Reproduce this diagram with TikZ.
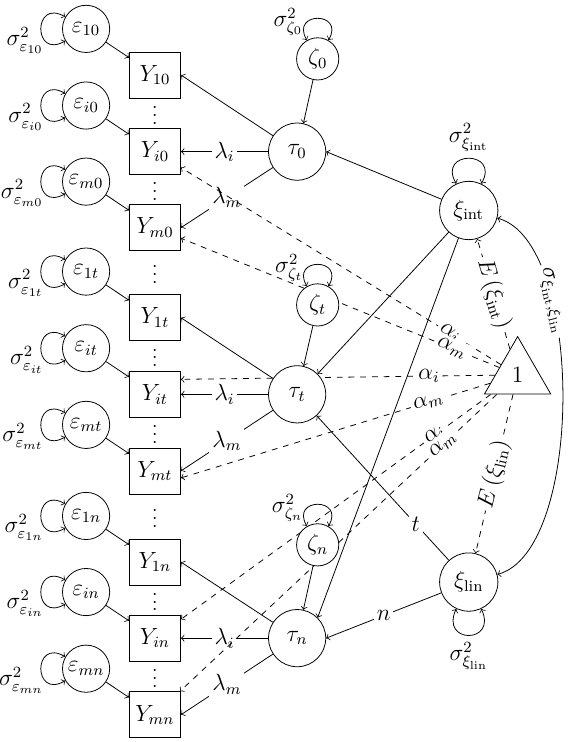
\documentclass[tikz,border=0pt]{standalone}
\usepackage{amsmath,amsfonts,amssymb}
\usepackage{tikz}
\usetikzlibrary{shapes.geometric}
\usetikzlibrary{positioning,arrows}
\usetikzlibrary{calc}
\usetikzlibrary{backgrounds}
\tikzset{
  obsbox/.style={draw, rectangle, fill=white, minimum width=0.92cm, minimum height=0.83cm, inner sep=1pt},
  errcirc/.style={draw, circle, fill=white, minimum size=0.85cm, inner sep=0.5pt},
  taucirc/.style={draw, circle, fill=white, minimum size=1.03cm, inner sep=1pt},
  zetacirc/.style={draw, circle, fill=white, minimum size=0.76cm, inner sep=1pt},
  xicirc/.style={draw, circle, fill=white, minimum size=1.05cm, inner sep=1pt},
  onetri/.style={draw, regular polygon, regular polygon sides=3, fill=white, minimum size=1.38cm, inner sep=0pt},
  coef/.style={fill=white, inner sep=1.5pt},
  varlbl/.style={left, inner sep=0.5pt},
  dotsnode/.style={font=\normalsize, yshift=2pt},
  leftloop/.style={<->, out=150, in=210, looseness=4},
  toploop/.style={<->, out=120, in=60, looseness=4},
  botloop/.style={<->, out=-115, in=-65, looseness=4},
}
\begin{document}
\begin{tikzpicture}[every node/.style={font=\large}]
    \useasboundingbox (0, 0) rectangle (10.21, -13.36);
    % observed, time 0
    \node [obsbox] (Y10) at (2.79, -1.35) {$Y_{10}$};
    \node [obsbox] (Yi0) at (2.79, -2.73) {$Y_{i0}$};
    \node [obsbox] (Ym0) at (2.79, -4.10) {$Y_{m0}$};
    % observed, time t
    \node [obsbox] (Y1t) at (2.79, -5.72) {$Y_{1t}$};
    \node [obsbox] (Yit) at (2.79, -7.10) {$Y_{it}$};
    \node [obsbox] (Ymt) at (2.79, -8.48) {$Y_{mt}$};
    % observed, time n
    \node [obsbox] (Y1n) at (2.79, -10.12) {$Y_{1n}$};
    \node [obsbox] (Yin) at (2.79, -11.49) {$Y_{in}$};
    \node [obsbox] (Ymn) at (2.79, -12.87) {$Y_{mn}$};
    % dots
    \node [dotsnode] (dot1) at ($(Y10)!0.5!(Yi0)$) {$\vdots$};
    \node [dotsnode] (dot2) at ($(Yi0)!0.5!(Ym0)$) {$\vdots$};
    \node [dotsnode] (dot3) at ($(Ym0)!0.5!(Y1t)$) {$\vdots$};
    \node [dotsnode] (dot4) at ($(Y1t)!0.5!(Yit)$) {$\vdots$};
    \node [dotsnode] (dot5) at ($(Yit)!0.5!(Ymt)$) {$\vdots$};
    \node [dotsnode] (dot6) at ($(Ymt)!0.5!(Y1n)$) {$\vdots$};
    \node [dotsnode] (dot7) at ($(Y1n)!0.5!(Yin)$) {$\vdots$};
    \node [dotsnode] (dot8) at ($(Yin)!0.5!(Ymn)$) {$\vdots$};
    % errors
    \node [errcirc] (e10) at (1.55, -0.52) {$\varepsilon_{10}$};
    \node [errcirc] (ei0) at (1.55, -1.90) {$\varepsilon_{i0}$};
    \node [errcirc] (em0) at (1.55, -3.27) {$\varepsilon_{m0}$};
    \node [errcirc] (e1t) at (1.55, -4.89) {$\varepsilon_{1t}$};
    \node [errcirc] (eit) at (1.55, -6.27) {$\varepsilon_{it}$};
    \node [errcirc] (emt) at (1.55, -7.65) {$\varepsilon_{mt}$};
    \node [errcirc] (e1n) at (1.55, -9.29) {$\varepsilon_{1n}$};
    \node [errcirc] (ein) at (1.55, -10.66) {$\varepsilon_{in}$};
    \node [errcirc] (emn) at (1.55, -12.04) {$\varepsilon_{mn}$};
    % occasions
    \node [taucirc] (tau0) at (5.35, -2.73) {$\tau_0$};
    \node [taucirc] (taut) at (5.35, -7.10) {$\tau_t$};
    \node [taucirc] (taun) at (5.35, -11.49) {$\tau_n$};
    \node [zetacirc] (zeta0) at (5.72, -1.06) {$\zeta_0$};
    \node [zetacirc] (zetat) at (5.72, -5.49) {$\zeta_t$};
    \node [zetacirc] (zetan) at (5.72, -9.81) {$\zeta_n$};
    % growth factors
    \node [xicirc] (xiint) at (8.44, -3.79) {$\xi_{\text{int}}$};
    \node [xicirc] (xilin) at (8.44, -10.48) {$\xi_{\text{lin}}$};
    \node [onetri] (one) at (9.32, -6.75) {$1$};

    \begin{scope}[on background layer]
    % error variances
    \draw [leftloop] (e10.150) to node [varlbl, pos=0.7] {$\sigma^2_{\varepsilon_{10}}$} (e10.210);
    \draw [leftloop] (ei0.150) to node [varlbl, pos=0.7] {$\sigma^2_{\varepsilon_{i0}}$} (ei0.210);
    \draw [leftloop] (em0.150) to node [varlbl, pos=0.7] {$\sigma^2_{\varepsilon_{m0}}$} (em0.210);
    \draw [leftloop] (e1t.150) to node [varlbl, pos=0.7] {$\sigma^2_{\varepsilon_{1t}}$} (e1t.210);
    \draw [leftloop] (eit.150) to node [varlbl, pos=0.7] {$\sigma^2_{\varepsilon_{it}}$} (eit.210);
    \draw [leftloop] (emt.150) to node [varlbl, pos=0.7] {$\sigma^2_{\varepsilon_{mt}}$} (emt.210);
    \draw [leftloop] (e1n.150) to node [varlbl, pos=0.7] {$\sigma^2_{\varepsilon_{1n}}$} (e1n.210);
    \draw [leftloop] (ein.150) to node [varlbl, pos=0.7] {$\sigma^2_{\varepsilon_{in}}$} (ein.210);
    \draw [leftloop] (emn.150) to node [varlbl, pos=0.7] {$\sigma^2_{\varepsilon_{mn}}$} (emn.210);
    \draw [->] (e10) -- (Y10);
    \draw [->] (ei0) -- (Yi0);
    \draw [->] (em0) -- (Ym0);
    \draw [->] (e1t) -- (Y1t);
    \draw [->] (eit) -- (Yit);
    \draw [->] (emt) -- (Ymt);
    \draw [->] (e1n) -- (Y1n);
    \draw [->] (ein) -- (Yin);
    \draw [->] (emn) -- (Ymn);
    % loadings
    \draw [->] (tau0) -- (Y10.east);
    \draw [->] (tau0) -- node [coef] {$\lambda_i$} (Yi0.east);
    \draw [->] (tau0) -- node [coef] {$\lambda_m$} (Ym0.east);
    \draw [->] (taut) -- (Y1t.east);
    \draw [->] (taut) -- node [coef] {$\lambda_i$} (Yit.east);
    \draw [->] (taut) -- node [coef] {$\lambda_m$} (Ymt.east);
    \draw [->] (taun) -- (Y1n.east);
    \draw [->] (taun) -- node [coef] {$\lambda_i$} (Yin.east);
    \draw [->] (taun) -- node [coef] {$\lambda_m$} (Ymn.east);
    % residuals
    \draw [toploop] (zeta0.120) to node [varlbl, inner sep=2pt, pos=0.3] {$\sigma^2_{\zeta_0}$} (zeta0.60);
    \draw [toploop] (zetat.120) to node [varlbl, inner sep=2pt, pos=0.3] {$\sigma^2_{\zeta_t}$} (zetat.60);
    \draw [toploop] (zetan.120) to node [varlbl, inner sep=2pt, pos=0.3] {$\sigma^2_{\zeta_n}$} (zetan.60);
    \draw [->] (zeta0) -- (tau0);
    \draw [->] (zetat) -- (taut);
    \draw [->] (zetan) -- (taun);
    % intercepts
    \draw [->, dashed] (one) -- node [coef, sloped, pos=0.16] {$\alpha_i$} (Yi0);
    \draw [->, dashed] (one) -- node [coef, sloped, pos=0.15] {$\alpha_m$} (Ym0);
    \draw [->, dashed] (one) -- node [coef, sloped, pos=0.21] {$\alpha_i$} (Yit.30);
    \draw [->, dashed] (one) -- node [coef, sloped, pos=0.2] {$\alpha_m$} (Ymt.-15);
    \draw [->, dashed] (one) -- node [coef, sloped, pos=0.18] {$\alpha_i$} (Yin);
    \draw [->, dashed] (one) -- node [coef, sloped, pos=0.17] {$\alpha_m$} (Ymn);
    % growth
    \draw [toploop] (xiint.115) to node [above] {$\sigma^2_{\xi_{\text{int}}}$} (xiint.65);
    \draw [botloop] (xilin.-115) to node [below] {$\sigma^2_{\xi_{\text{lin}}}$} (xilin.-65);
    \draw [->] (xiint) -- (tau0.east);
    \draw [->] (xiint) -- (taut.north east);
    \draw [->] (xiint) -- (taun.north east);
    \draw [->] (xilin) -- node [coef, pos=0.25] {$t$} (taut);
    \draw [->] (xilin) -- node [coef] {$n$} (taun.east);
    \draw [->, dashed] (one) -- node [coef, sloped] {$E\left(\xi_{\text{int}}\right)$} (xiint);
    \draw [->, dashed] (one) -- node [coef, sloped] {$E\left(\xi_{\text{lin}}\right)$} (xilin);
    \draw [<->] (xiint) to [out=-15, in=15, looseness=0.65] node [coef, sloped, pos=0.3] {$\sigma_{\xi_{\text{int}},\xi_{\text{lin}}}$} (xilin);
    \end{scope}
\end{tikzpicture}
\end{document}
